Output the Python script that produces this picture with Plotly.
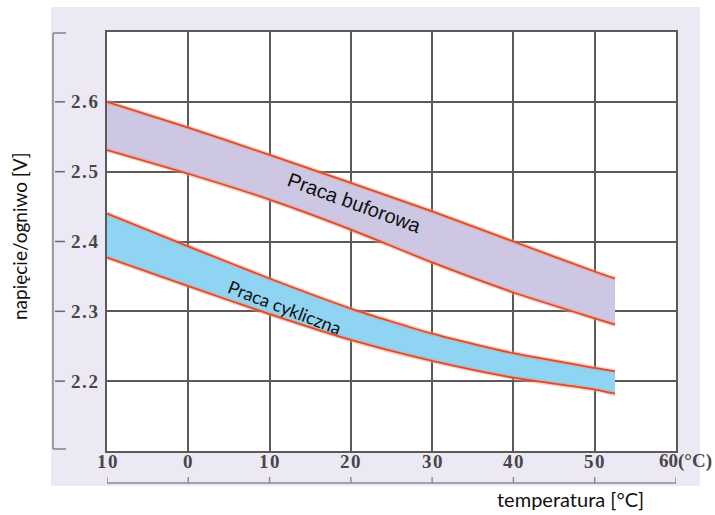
import plotly.graph_objects as go

# Temperature axis (°C) and the tick labels printed under the grid
temp_ticks = [-10, 0, 10, 20, 30, 40, 50, 60]
temp_labels = ["10", "0", "10", "20", "30", "40", "50", "60(°C)"]
volt_ticks = [2.2, 2.3, 2.4, 2.5, 2.6]
volt_labels = ["2.2", "2.3", "2.4", "2.5", "2.6"]

# Float (buffer) charging band
buf_t = [-10, 0, 10, 20, 30, 40, 50, 52.5]
buf_upper = [2.600, 2.563, 2.524, 2.484, 2.443, 2.400, 2.357, 2.347]
buf_lower = [2.531, 2.497, 2.460, 2.417, 2.370, 2.327, 2.290, 2.281]

# Cyclic charging band
cyc_t = [-10, 0, 10, 20, 30, 40, 50, 52.5]
cyc_upper = [2.440, 2.393, 2.347, 2.304, 2.268, 2.240, 2.219, 2.214]
cyc_lower = [2.377, 2.336, 2.296, 2.259, 2.229, 2.205, 2.188, 2.182]

X_RANGE = [-10, 60]
Y_RANGE = [2.1, 2.7]

# plot-area geometry in pixels (used to place decorations in paper units)
W, H = 715, 515
L, R, T, B = 107, 39, 32, 64
PW, PH = W - L - R, H - T - B


def px_x(px):
    return (px - L) / PW


def px_y(py):
    return (H - B - py) / PH


def spaced(s):
    # the printed scale numbers are slightly letter-spaced
    return "\u200a".join(s)


LINE_RED = "#dd4a32"
GLOW = "rgba(245,150,110,0.45)"
GRID = "#5a5a5a"

fig = go.Figure()


def band(t, upper, lower, fill):
    fig.add_trace(go.Scatter(
        x=t + t[::-1], y=upper + lower[::-1], fill="toself",
        fillcolor=fill, line=dict(width=0), mode="lines",
        hoverinfo="skip", showlegend=False))
    for ys in (upper, lower):
        fig.add_trace(go.Scatter(
            x=t, y=ys, mode="lines",
            line=dict(color=GLOW, width=4.5, shape="spline", smoothing=0.6),
            hoverinfo="skip", showlegend=False))
        fig.add_trace(go.Scatter(
            x=t, y=ys, mode="lines",
            line=dict(color=LINE_RED, width=1.8, shape="spline", smoothing=0.6),
            showlegend=False))


band(buf_t, buf_upper, buf_lower, "#cec7e3")
band(cyc_t, cyc_upper, cyc_lower, "#8fd4f3")

shapes = [
    # lavender panel behind the chart, with a white plotting area on top
    dict(type="rect", xref="paper", yref="paper", layer="below",
         x0=px_x(51), x1=px_x(700), y0=px_y(486), y1=px_y(7),
         fillcolor="#ece8f4", line=dict(width=0)),
    dict(type="rect", xref="paper", yref="paper", layer="below",
         x0=0, x1=1, y0=0, y1=1, fillcolor="white", line=dict(width=0)),
    # left bracket of the voltage scale
    dict(type="line", xref="paper", yref="paper",
         x0=px_x(53), x1=px_x(53), y0=px_y(449), y1=px_y(33),
         line=dict(color="#8a8a8a", width=1.6)),
    dict(type="line", xref="paper", yref="paper",
         x0=px_x(53), x1=px_x(66), y0=px_y(33), y1=px_y(33),
         line=dict(color="#8a8a8a", width=1.6)),
    dict(type="line", xref="paper", yref="paper",
         x0=px_x(53), x1=px_x(66), y0=px_y(449), y1=px_y(449),
         line=dict(color="#8a8a8a", width=1.6)),
    # lower temperature scale line
    dict(type="line", xref="paper", yref="paper",
         x0=0, x1=1, y0=px_y(483), y1=px_y(483),
         line=dict(color="#8a8a8a", width=1.6)),
]
for v in volt_ticks:
    shapes.append(dict(type="line", xref="paper", yref="y",
                       x0=px_x(55), x1=px_x(65), y0=v, y1=v,
                       line=dict(color="#6a6a6a", width=1.5)))
for t in temp_ticks:
    shapes.append(dict(type="line", xref="x", yref="paper",
                       x0=t, x1=t, y0=px_y(483), y1=px_y(477),
                       line=dict(color="#8a8a8a", width=1.4)))

tick_font = dict(family="Liberation Serif", size=19, color="#474747",
                 weight="bold")
annotations = []
for v, lab in zip(volt_ticks, volt_labels):
    annotations.append(dict(xref="paper", yref="y", x=px_x(84), y=v,
                            text=spaced(lab), showarrow=False,
                            xanchor="center", yanchor="middle", font=tick_font))
for t, lab in zip(temp_ticks, temp_labels):
    is_last = t == temp_ticks[-1]
    annotations.append(dict(xref="x", yref="paper", x=t, y=px_y(461),
                            text=lab if is_last else spaced(lab),
                            showarrow=False,
                            xanchor="left" if is_last else "center",
                            xshift=-19 if is_last else 0,
                            yanchor="middle", font=tick_font))

annotations += [
    dict(xref="paper", yref="paper", x=px_x(19), y=px_y(236),
         text="napięcie/ogniwo [V]", textangle=-90, showarrow=False,
         xanchor="center", yanchor="middle",
         font=dict(family="Lato", size=19, color="#111111")),
    dict(xref="paper", yref="paper", x=px_x(570), y=px_y(499),
         text="temperatura [°C]", showarrow=False,
         xanchor="center", yanchor="middle",
         font=dict(family="Lato", size=20, color="#111111")),
    dict(xref="x", yref="y", x=20.5, y=2.455,
         text="Praca buforowa", textangle=20, showarrow=False,
         font=dict(family="Liberation Sans", size=20, color="#111111")),
    dict(xref="x", yref="y", x=11.8, y=2.306,
         text="Praca cykliczna", textangle=21, showarrow=False,
         font=dict(family="Lato", size=18, color="#111111")),
]

axis_common = dict(showgrid=True, gridcolor=GRID, gridwidth=1.8,
                   showline=True, linecolor=GRID, linewidth=1.8, mirror=True,
                   zeroline=False, showticklabels=False, ticks="",
                   fixedrange=True)

fig.update_layout(
    width=W, height=H,
    margin=dict(l=L, r=R, t=T, b=B),
    paper_bgcolor="white",
    plot_bgcolor="white",
    xaxis=dict(range=X_RANGE, tickvals=temp_ticks, **axis_common),
    yaxis=dict(range=Y_RANGE, dtick=0.1, tick0=2.1, **axis_common),
    shapes=shapes,
    annotations=annotations,
    showlegend=False,
)

fig.write_html("out.html")
